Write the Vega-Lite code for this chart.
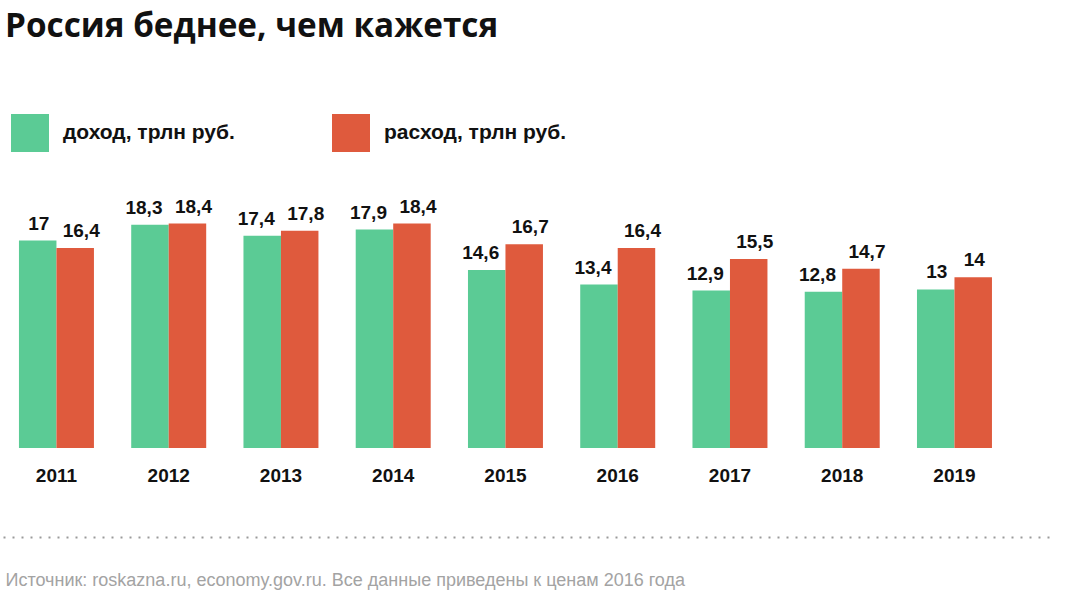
{
  "$schema": "https://vega.github.io/schema/vega-lite/v6.json",
  "width": 1049,
  "height": 244,
  "autosize": {"type": "none"},
  "padding": {"left": 3, "top": 204, "right": 35, "bottom": 154},
  "background": "white",
  "title": {
    "text": "Россия беднее, чем кажется",
    "anchor": "start",
    "frame": "group",
    "dx": 2,
    "offset": 70,
    "font": "Open Sans",
    "fontSize": 33.3,
    "fontWeight": 700,
    "color": "#111111"
  },
  "data": {
    "values": [
      {"year": "2011", "type": "доход, трлн руб.", "value": 17},
      {"year": "2011", "type": "расход, трлн руб.", "value": 16.4},
      {"year": "2012", "type": "доход, трлн руб.", "value": 18.3},
      {"year": "2012", "type": "расход, трлн руб.", "value": 18.4},
      {"year": "2013", "type": "доход, трлн руб.", "value": 17.4},
      {"year": "2013", "type": "расход, трлн руб.", "value": 17.8},
      {"year": "2014", "type": "доход, трлн руб.", "value": 17.9},
      {"year": "2014", "type": "расход, трлн руб.", "value": 18.4},
      {"year": "2015", "type": "доход, трлн руб.", "value": 14.6},
      {"year": "2015", "type": "расход, трлн руб.", "value": 16.7},
      {"year": "2016", "type": "доход, трлн руб.", "value": 13.4},
      {"year": "2016", "type": "расход, трлн руб.", "value": 16.4},
      {"year": "2017", "type": "доход, трлн руб.", "value": 12.9},
      {"year": "2017", "type": "расход, трлн руб.", "value": 15.5},
      {"year": "2018", "type": "доход, трлн руб.", "value": 12.8},
      {"year": "2018", "type": "расход, трлн руб.", "value": 14.7},
      {"year": "2019", "type": "доход, трлн руб.", "value": 13},
      {"year": "2019", "type": "расход, трлн руб.", "value": 14}
    ]
  },
  "encoding": {
    "x": {
      "field": "year",
      "type": "nominal",
      "scale": {"paddingInner": 0.332, "paddingOuter": 0.3385, "align": 0.21},
      "axis": {
        "title": "Источник: roskazna.ru, economy.gov.ru. Все данные приведены к ценам 2016 года",
        "orient": "bottom",
        "offset": 89,
        "domain": true,
        "domainColor": "#9a9a9a",
        "domainWidth": 2,
        "domainDash": [2, 7],
        "domainCap": "butt",
        "ticks": false,
        "labelAngle": 0,
        "labelPadding": -62,
        "labelBaseline": "middle",
        "labelFont": "Liberation Sans",
        "labelFontSize": 19,
        "labelFontWeight": "bold",
        "labelColor": "#111111",
        "titleFont": "Liberation Sans",
        "titleFontSize": 18,
        "titleFontWeight": "normal",
        "titleColor": "#a3a3a3",
        "titleAnchor": "start",
        "titleAlign": "left",
        "titleBaseline": "alphabetic",
        "titleX": 2,
        "titleY": 48
      }
    },
    "xOffset": {"field": "type", "type": "nominal", "scale": {"paddingInner": 0, "paddingOuter": 0}},
    "y": {
      "field": "value",
      "type": "quantitative",
      "scale": {"domain": [0, 20], "nice": false},
      "axis": null
    }
  },
  "layer": [
    {
      "mark": {"type": "bar", "stroke": null},
      "encoding": {
        "color": {
          "field": "type",
          "type": "nominal",
          "scale": {"domain": ["доход, трлн руб.", "расход, трлн руб."], "range": ["#5BCB95", "#DF5A3D"]},
          "legend": {
            "title": null,
            "orient": "none",
            "legendX": 8,
            "legendY": -90,
            "direction": "horizontal",
            "symbolType": "square",
            "symbolSize": 1444,
            "symbolStrokeWidth": 0,
            "symbolOpacity": 1,
            "labelFont": "Liberation Sans",
            "labelFontSize": 21,
            "labelFontWeight": "bold",
            "labelColor": "#111111",
            "labelOffset": 14,
            "labelLimit": 400,
            "columnPadding": 97
          }
        }
      }
    },
    {
      "transform": [{"filter": "datum.type === 'доход, трлн руб.' && datum.value % 1 !== 0"}],
      "mark": {
        "type": "text",
        "baseline": "bottom",
        "dy": -7,
        "dx": -6,
        "font": "Liberation Sans",
        "fontSize": 19,
        "fontWeight": "bold",
        "color": "#111111"
      },
      "encoding": {
        "text": {"field": "value", "type": "quantitative", "format": ".1~f"}
      }
    },
    {
      "transform": [{"filter": "datum.type === 'расход, трлн руб.' && datum.value % 1 !== 0"}],
      "mark": {
        "type": "text",
        "baseline": "bottom",
        "dy": -7,
        "dx": 6,
        "font": "Liberation Sans",
        "fontSize": 19,
        "fontWeight": "bold",
        "color": "#111111"
      },
      "encoding": {
        "text": {"field": "value", "type": "quantitative", "format": ".1~f"}
      }
    },
    {
      "transform": [{"filter": "datum.value % 1 === 0"}],
      "mark": {
        "type": "text",
        "baseline": "bottom",
        "dy": -7,
        "dx": 1,
        "font": "Liberation Sans",
        "fontSize": 19,
        "fontWeight": "bold",
        "color": "#111111"
      },
      "encoding": {
        "text": {"field": "value", "type": "quantitative", "format": ".1~f"}
      }
    }
  ],
  "config": {
    "view": {"stroke": null},
    "locale": {
      "number": {"decimal": ",", "thousands": " ", "grouping": [3], "currency": ["", ""]}
    }
  }
}
